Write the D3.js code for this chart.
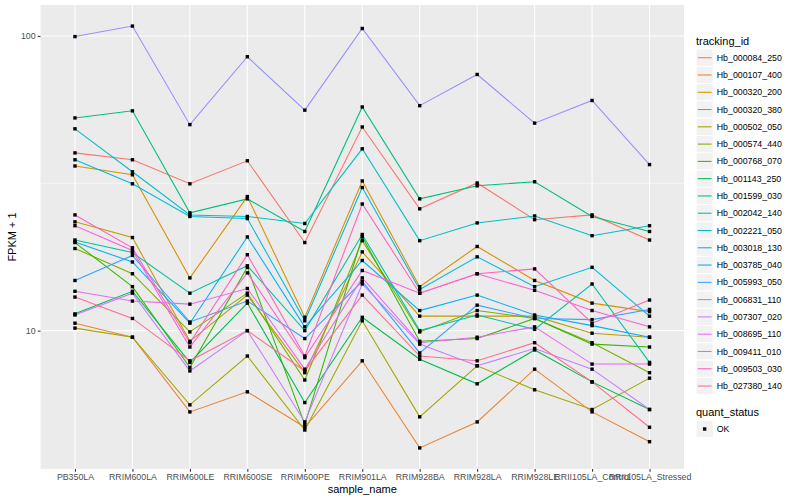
<!DOCTYPE html>
<html><head><meta charset="utf-8">
<script src="https://cdnjs.cloudflare.com/ajax/libs/d3/7.8.5/d3.min.js"></script>
<style>
body{margin:0;background:#fff;}
svg{display:block;}
text{font-family:"Liberation Sans",Arial,Helvetica,sans-serif;}
</style>
</head><body>
<svg id="chart" width="800" height="500"></svg>
<script>
// ---------- data ----------
const samples = ["PB350LA","RRIM600LA","RRIM600LE","RRIM600SE","RRIM600PE","RRIM901LA","RRIM928BA","RRIM928LA","RRIM928LE","RRII105LA_Control","RRII105LA_Stressed"];
const trackingIds = ["Hb_000084_250","Hb_000107_400","Hb_000320_200","Hb_000320_380","Hb_000502_050","Hb_000574_440","Hb_000768_070","Hb_001143_250","Hb_001599_030","Hb_002042_140","Hb_002221_050","Hb_003018_130","Hb_003785_040","Hb_005993_050","Hb_006831_110","Hb_007307_020","Hb_008695_110","Hb_009411_010","Hb_009503_030","Hb_027380_140"];

const hb_000084_250 = [40.1, 38.0, 31.5, 37.7, 19.9, 49.1, 25.9, 31.7, 23.8, 24.7, 20.3];
const hb_000107_400 = [10.6, 9.5, 5.3, 6.2, 4.7, 7.9, 4.0, 4.9, 7.4, 5.3, 4.2];
const hb_000320_200 = [36.2, 33.8, 15.1, 28.5, 11.1, 32.2, 14.1, 19.3, 14.8, 12.4, 11.6];
const hb_000320_380 = [23.4, 20.7, 9.2, 13.2, 7.2, 18.5, 11.2, 11.2, 11.2, 9.8, 9.5];
const hb_000502_050 = [10.2, 9.5, 5.6, 8.2, 4.6, 10.8, 5.1, 7.6, 6.3, 5.4, 6.9];
const hb_000574_440 = [19.0, 15.6, 9.9, 13.4, 6.8, 20.2, 9.9, 11.7, 11.0, 9.1, 7.2];
const hb_000768_070 = [19.9, 14.1, 7.5, 16.4, 4.8, 20.8, 9.2, 9.4, 11.0, 9.0, 8.8];
const hb_001143_250 = [11.4, 13.6, 7.8, 12.4, 5.7, 11.1, 8.0, 6.6, 8.6, 6.7, 5.4];
const hb_001599_030 = [52.7, 55.7, 25.1, 28.0, 21.7, 57.4, 28.0, 31.0, 32.0, 24.4, 21.7];
const hb_002042_140 = [20.3, 18.4, 13.4, 16.6, 10.0, 21.2, 10.0, 11.3, 10.1, 14.4, 7.8];
const hb_002221_050 = [48.4, 34.6, 24.7, 24.4, 23.1, 41.4, 20.2, 23.2, 24.5, 21.0, 22.7];
const hb_003018_130 = [38.0, 31.5, 24.4, 24.0, 10.8, 30.6, 13.8, 17.8, 14.1, 16.4, 11.2];
const hb_003785_040 = [20.0, 17.1, 10.6, 20.8, 10.3, 17.3, 11.7, 13.2, 11.3, 10.4, 9.5];
const hb_005993_050 = [14.8, 18.0, 10.7, 12.6, 9.4, 14.7, 8.4, 12.2, 11.0, 10.9, 11.8];
const hb_006831_110 = [99.5, 108.0, 50.0, 85.0, 56.0, 106.0, 58.0, 74.0, 50.6, 60.4, 36.6];
const hb_007307_020 = [11.3, 13.4, 7.3, 10.0, 4.9, 14.4, 9.0, 7.6, 8.7, 7.4, 5.4];
const hb_008695_110 = [13.6, 12.6, 12.3, 13.9, 7.4, 15.1, 9.1, 9.5, 10.3, 7.7, 7.7];
const hb_009411_010 = [22.7, 18.7, 8.8, 15.7, 8.1, 16.0, 13.4, 15.6, 13.7, 11.7, 10.3];
const hb_009503_030 = [24.7, 19.1, 9.1, 18.1, 8.2, 26.9, 13.4, 15.6, 16.2, 10.6, 12.7];
const hb_027380_140 = [13.0, 11.0, 7.9, 10.0, 7.3, 13.2, 8.2, 7.9, 9.1, 6.7, 4.7];

const yTickValues = [10, 100];
const yTickLabels = ["10", "100"];
const quantStatus = ["OK"];

const seriesValues = [hb_000084_250, hb_000107_400, hb_000320_200, hb_000320_380, hb_000502_050, hb_000574_440, hb_000768_070, hb_001143_250, hb_001599_030, hb_002042_140, hb_002221_050, hb_003018_130, hb_003785_040, hb_005993_050, hb_006831_110, hb_007307_020, hb_008695_110, hb_009411_010, hb_009503_030, hb_027380_140];
const palette = ["#F8766D","#EA8331","#D89000","#C09B00","#A3A500","#7CAE00","#39B600","#00BB4E","#00BF7D","#00C1A3","#00BFC4","#00BAE0","#00B0F6","#35A2FF","#9590FF","#C77CFF","#E76BF3","#FA62DB","#FF62BC","#FF6C91"];

const series = trackingIds.map((id, i) => ({
  id, values: seriesValues[i].map((v, j) => ({sample: samples[j], value: v}))
}));

// ---------- layout ----------
const svg = d3.select("#chart");
const P = {left: 40.5, right: 684, top: 5, bottom: 469};

const x = d3.scalePoint().domain(samples).range([P.left, P.right]).padding(0.6);
const all = seriesValues.flat();
const lmin = Math.log10(d3.min(all)), lmax = Math.log10(d3.max(all));
const ex = (lmax - lmin) * 0.05;
const y = d3.scaleLog().domain([Math.pow(10, lmin - ex), Math.pow(10, lmax + ex)]).range([P.bottom, P.top]);
const color = d3.scaleOrdinal().domain(trackingIds).range(palette);

// panel
svg.append("rect").attr("x", P.left).attr("y", P.top)
  .attr("width", P.right - P.left).attr("height", P.bottom - P.top).attr("fill", "#EBEBEB");

const g = svg.append("g");
// minor grid
const minorY = [Math.pow(10, 0.5), Math.pow(10, 1.5), Math.pow(10, 2.5)].filter(v => v > y.domain()[0] && v < y.domain()[1]);
g.selectAll(".minor").data(minorY).join("line")
  .attr("x1", P.left).attr("x2", P.right).attr("y1", d => y(d)).attr("y2", d => y(d))
  .attr("stroke", "#fff").attr("stroke-width", 0.53);
// major grid
g.selectAll(".majy").data(yTickValues).join("line")
  .attr("x1", P.left).attr("x2", P.right).attr("y1", d => y(d)).attr("y2", d => y(d))
  .attr("stroke", "#fff").attr("stroke-width", 1.07);
g.selectAll(".majx").data(samples).join("line")
  .attr("x1", d => x(d)).attr("x2", d => x(d)).attr("y1", P.top).attr("y2", P.bottom)
  .attr("stroke", "#fff").attr("stroke-width", 1.07);

// lines
const line = d3.line().x(d => x(d.sample)).y(d => y(d.value));
svg.append("g").selectAll("path").data(series).join("path")
  .attr("d", d => line(d.values)).attr("fill", "none")
  .attr("stroke", d => color(d.id)).attr("stroke-width", 1.07);

// points
const pts = series.flatMap(s => s.values);
const ps = 3.4;
svg.append("g").selectAll("rect").data(pts).join("rect")
  .attr("x", d => x(d.sample) - ps/2).attr("y", d => y(d.value) - ps/2)
  .attr("width", ps).attr("height", ps).attr("fill", "#000");

// axes
const yAxis = d3.axisLeft(y).tickValues(yTickValues).tickFormat((d, i) => yTickLabels[i]).tickSize(2.75).tickPadding(2.2);
const ya = svg.append("g").attr("transform", `translate(${P.left},0)`).call(yAxis);
const xAxis = d3.axisBottom(x).tickSize(2.75).tickPadding(2.2);
const xa = svg.append("g").attr("transform", `translate(0,${P.bottom})`).call(xAxis);
[ya, xa].forEach(a => {
  a.select(".domain").remove();
  a.selectAll(".tick line").attr("stroke", "#333333").attr("stroke-width", 1.07);
  a.selectAll(".tick text").attr("fill", "#4D4D4D").style("font-size", "8.8px")
    .style("font-family", '"Liberation Sans",Arial,sans-serif');
});

// axis titles
svg.append("text").attr("x", (P.left + P.right) / 2).attr("y", 492.5).attr("text-anchor", "middle")
  .style("font-size", "11px").attr("fill", "#000").text("sample_name");
svg.append("text").attr("transform", `translate(16,${(P.top + P.bottom) / 2}) rotate(-90)`)
  .attr("text-anchor", "middle").style("font-size", "11px").attr("fill", "#000").text("FPKM + 1");

// legend
const L = {x: 696, titleY: 44.5, firstY: 57.7, key: 17.28};
svg.append("text").attr("x", L.x).attr("y", L.titleY).style("font-size", "11px").attr("fill", "#000").text("tracking_id");
const lg = svg.append("g");
trackingIds.forEach((id, i) => {
  const cy = L.firstY + i * L.key;
  lg.append("rect").attr("x", L.x).attr("y", cy - L.key/2).attr("width", L.key).attr("height", L.key)
    .attr("fill", "#F2F2F2").attr("stroke", "#fff").attr("stroke-width", 1);
  lg.append("line").attr("x1", L.x + 1.7).attr("x2", L.x + L.key - 1.7).attr("y1", cy).attr("y2", cy)
    .attr("stroke", color(id)).attr("stroke-width", 1.07);
  lg.append("text").attr("x", L.x + L.key + 3.5).attr("y", cy + 3.1).style("font-size", "8.8px").attr("fill", "#000").text(id);
});
svg.append("text").attr("x", L.x).attr("y", 416).style("font-size", "11px").attr("fill", "#000").text("quant_status");
quantStatus.forEach((q, i) => {
  const cy = 429 + i * L.key;
  lg.append("rect").attr("x", L.x).attr("y", cy - L.key/2).attr("width", L.key).attr("height", L.key)
    .attr("fill", "#F2F2F2").attr("stroke", "#fff").attr("stroke-width", 1);
  lg.append("rect").attr("x", L.x + L.key/2 - ps/2).attr("y", cy - ps/2).attr("width", ps).attr("height", ps).attr("fill", "#000");
  lg.append("text").attr("x", L.x + L.key + 3.5).attr("y", cy + 3.1).style("font-size", "8.8px").attr("fill", "#000").text(q);
});
</script>
</body></html>
